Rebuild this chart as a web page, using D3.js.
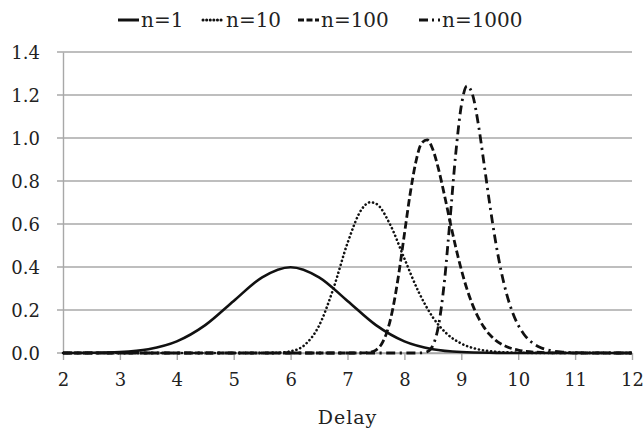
<!DOCTYPE html>
<html>
<head>
<meta charset="utf-8">
<script src="https://cdn.jsdelivr.net/npm/d3@7"></script>
<style>
  body { margin: 0; background: #fff; }
  svg text { font-family: "DejaVu Serif", serif; fill: #222; }
</style>
</head>
<body>
<div id="chart"></div>
<script>
// values
const yTicks = [0, 0.2, 0.4, 0.6, 0.8, 1.0, 1.2, 1.4];
const xTicks = [2, 3, 4, 5, 6, 7, 8, 9, 10, 11, 12];

const delays1 = [2, 2.5, 3, 3.5, 4, 4.5, 5, 5.5, 6, 6.5, 7, 7.5, 8, 8.5, 9, 9.5, 10, 10.5, 12];
const values1 = [0.0001, 0.0009, 0.0044, 0.0175, 0.054, 0.1295, 0.242, 0.352, 0.399, 0.352, 0.242, 0.1295, 0.054, 0.0175, 0.0044, 0.0009, 0.0001, 0, 0];

const delays10 = [2, 5.5, 5.75, 6, 6.25, 6.5, 6.75, 7, 7.25, 7.4, 7.5, 7.75, 8, 8.25, 8.5, 8.75, 9, 9.25, 9.5, 9.75, 10, 10.5, 12];
const values10 = [0, 0.0001, 0.001, 0.008, 0.038, 0.127, 0.298, 0.511, 0.669, 0.701, 0.695, 0.597, 0.439, 0.284, 0.166, 0.0885, 0.0438, 0.0201, 0.0087, 0.0035, 0.0013, 0.0002, 0];

const delays100 = [2, 7.2, 7.3, 7.4, 7.5, 7.6, 7.7, 7.8, 7.9, 8.0, 8.1, 8.2, 8.3, 8.4, 8.5, 8.6, 8.7, 8.8, 8.9, 9.0, 9.1, 9.2, 9.3, 9.4, 9.5, 9.6, 9.7, 9.8, 9.9, 10.0, 10.2, 10.4, 10.6, 10.8, 11.0, 12];
const values100 = [0, 0.0001, 0.0007, 0.0036, 0.0138, 0.0418, 0.1031, 0.2108, 0.3666, 0.553, 0.7384, 0.887, 0.975, 0.991, 0.946, 0.855, 0.739, 0.614, 0.4948, 0.388, 0.2968, 0.2227, 0.1642, 0.1191, 0.0853, 0.0602, 0.042, 0.029, 0.0198, 0.0133, 0.0059, 0.0025, 0.001, 0.0004, 0.0001, 0];

const delays1000 = [2, 8.2, 8.3, 8.4, 8.5, 8.6, 8.7, 8.8, 8.9, 9.0, 9.1, 9.2, 9.3, 9.4, 9.5, 9.6, 9.7, 9.8, 9.9, 10.0, 10.1, 10.2, 10.3, 10.4, 10.6, 10.8, 11.0, 11.2, 12];
const values1000 = [0, 0, 0.0006, 0.006, 0.0348, 0.1277, 0.3244, 0.6146, 0.9213, 1.1497, 1.242, 1.1997, 1.0627, 0.88, 0.6917, 0.522, 0.3814, 0.2716, 0.1893, 0.1297, 0.0874, 0.0582, 0.0382, 0.0248, 0.0101, 0.004, 0.0015, 0.0005, 0];

const seriesNames = ["n=1", "n=10", "n=100", "n=1000"];

const series = [
  { name: seriesNames[0], x: delays1, y: values1, dash: null, legDash: null, cap: "butt", w: 2.6 },
  { name: seriesNames[1], x: delays10, y: values10, dash: "0.1,4", legDash: "0.1,3.5", cap: "round", w: 2.6 },
  { name: seriesNames[2], x: delays100, y: values100, dash: "7.5,3.5", legDash: "6,2.5", cap: "butt", w: 2.8 },
  { name: seriesNames[3], x: delays1000, y: values1000, dash: "9,4.5,2.2,4.5", legDash: "9,4,2,4", cap: "butt", w: 2.8 }
];

const W = 644, H = 430;
const margin = { top: 52, right: 12, bottom: 77, left: 63 };
const width = 632 - margin.left;
const height = 353 - margin.top;

const svg = d3.select("#chart").append("svg")
  .attr("width", W).attr("height", H);

const g = svg.append("g")
  .attr("transform", `translate(${margin.left},${margin.top})`);

const x = d3.scaleLinear().domain([2, 12]).range([0, width]);
const y = d3.scaleLinear().domain([0, 1.4]).range([height, 0]);

// gridlines
g.selectAll(".grid")
  .data(yTicks)
  .enter().append("line")
  .attr("x1", -6).attr("x2", width)
  .attr("y1", d => y(d)).attr("y2", d => y(d))
  .attr("stroke", "#a8a8a8").attr("stroke-width", 1.4);

// y axis
const yAxis = g.append("g")
  .call(d3.axisLeft(y).tickValues(yTicks).tickFormat(d3.format(".1f")).tickSize(0).tickPadding(23));
yAxis.select(".domain").attr("stroke", "#a8a8a8").attr("stroke-width", 1.4);
yAxis.selectAll("text").style("font-size", "18px").attr("dy", "0.35em");

// x axis
const xAxis = g.append("g")
  .attr("transform", `translate(0,${height})`)
  .call(d3.axisBottom(x).tickValues(xTicks).tickSize(7).tickSizeOuter(0).tickPadding(13));
xAxis.select(".domain").attr("stroke", "#a8a8a8").attr("stroke-width", 1.4);
xAxis.selectAll(".tick line").attr("stroke", "#a8a8a8").attr("stroke-width", 1.4);
xAxis.selectAll("text").style("font-size", "18px");

// curves
const line = d3.line()
  .x(d => x(d[0]))
  .y(d => y(d[1]))
  .curve(d3.curveMonotoneX);

g.selectAll(".curve")
  .data(series)
  .enter().append("path")
  .attr("class", "curve")
  .attr("d", s => line(s.x.map((v, i) => [v, s.y[i]])))
  .attr("fill", "none")
  .attr("stroke", "#111")
  .attr("stroke-width", s => s.w)
  .attr("stroke-linecap", s => s.cap)
  .attr("stroke-dasharray", s => s.dash);

// axis title
svg.append("text")
  .attr("x", margin.left + width / 2)
  .attr("y", 417)
  .attr("dy", "0.35em")
  .attr("text-anchor", "middle")
  .style("font-size", "19px")
  .style("letter-spacing", "1px")
  .text("Delay");

// legend
const legendX = [117, 202, 297, 418];
const legend = svg.selectAll(".legend")
  .data(series)
  .enter().append("g")
  .attr("transform", (d, i) => `translate(${legendX[i]},20)`);

legend.append("line")
  .attr("x1", 1).attr("x2", 22)
  .attr("stroke", "#111")
  .attr("stroke-width", d => d.w + 0.4)
  .attr("stroke-linecap", d => d.cap)
  .attr("stroke-dasharray", d => d.legDash);

legend.append("text")
  .attr("x", 24)
  .attr("dy", "0.35em")
  .style("font-size", "20px")
  .text(d => d.name);
</script>
</body>
</html>
